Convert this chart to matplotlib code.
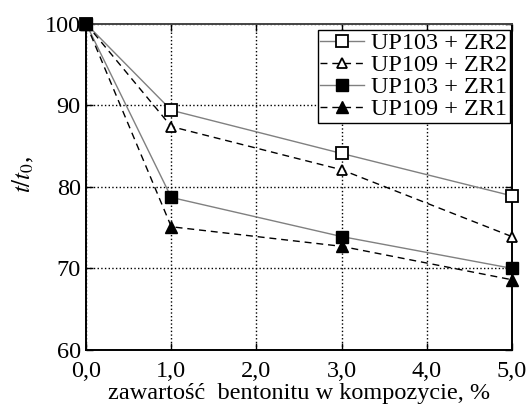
import numpy as np
import matplotlib.pyplot as plt

plt.rcParams['font.family'] = ['Liberation Serif', 'DejaVu Serif']
plt.rcParams['mathtext.fontset'] = 'stix'

# Dane
x = [0.0, 1.0, 3.0, 5.0]
up103_zr2 = [100.0, 89.4, 84.1, 78.9]
up109_zr2 = [100.0, 87.4, 82.1, 73.9]
up103_zr1 = [100.0, 78.7, 73.9, 70.0]
up109_zr1 = [100.0, 75.1, 72.7, 68.6]
labels = ["UP103 + ZR2", "UP109 + ZR2", "UP103 + ZR1", "UP109 + ZR1"]
xticks = [0, 1, 2, 3, 4, 5]
xtick_labels = ["0,0", "1,0", "2,0", "3,0", "4,0", "5,0"]
yticks = [60, 70, 80, 90, 100]

fig = plt.figure(figsize=(5.32, 4.12), dpi=100)
ax = fig.add_axes([0.162, 0.151, 0.800, 0.791])

gray = '#808080'
dash = (0, (5, 3.5))
ax.plot(x, up103_zr2, color=gray, lw=1.0, marker='s', ms=9, mfc='white',
        mec='black', mew=1.3, label=labels[0], zorder=3, clip_on=False)
ax.plot(x, up109_zr2, color='black', lw=1.0, ls=dash, marker='^', ms=7,
        mfc='white', mec='black', mew=1.3, label=labels[1], zorder=3, clip_on=False)
ax.plot(x, up103_zr1, color=gray, lw=1.0, marker='s', ms=9, mfc='black',
        mec='black', label=labels[2], zorder=3, clip_on=False)
ax.plot(x, up109_zr1, color='black', lw=1.0, ls=dash, marker='^', ms=9,
        mfc='black', mec='black', label=labels[3], zorder=3, clip_on=False)

ax.set_xlim(0, 5)
ax.set_ylim(60, 100)
ax.set_xticks(xticks)
ax.set_xticklabels(xtick_labels)
ax.set_yticks(yticks)
ax.tick_params(direction='in', labelsize=17.5, length=5, width=1,
               top=True, right=True, pad=4)
ax.tick_params(axis='x', pad=8)
for s in ax.spines.values():
    s.set_linewidth(1.4)
ax.spines['top'].set_color('#444444')
ax.grid(True, ls=':', color='black', lw=1.0)

ax.set_xlabel("zawartość  bentonitu w kompozycie, %", fontsize=17.5, labelpad=1)
ax.set_ylabel(r"$t/t_0$,", fontsize=18)
ax.yaxis.set_label_coords(-0.118, 0.54)

leg = ax.legend(loc='upper right', bbox_to_anchor=(0.995, 0.982),
                fontsize=17.5, handlelength=1.8,
                handletextpad=0.3, borderpad=0.1, labelspacing=0.0,
                borderaxespad=0.0, fancybox=False, framealpha=1,
                edgecolor='black')
leg.get_frame().set_linewidth(1.0)

plt.savefig("out.png", dpi=100)
